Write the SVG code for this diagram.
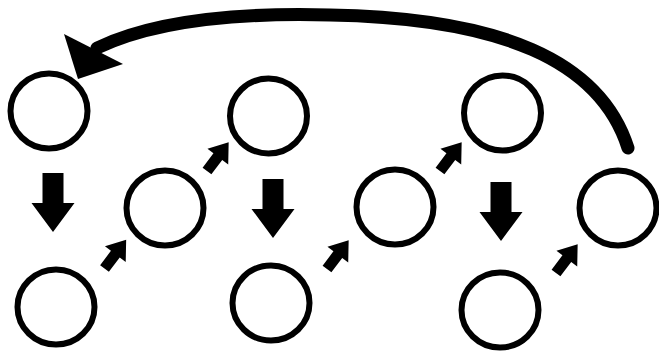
<svg xmlns="http://www.w3.org/2000/svg" xmlns:xlink="http://www.w3.org/1999/xlink" width="659" height="351" viewBox="0 0 659 351">
  <style>
    .node { fill: #ffffff; stroke: #000000; stroke-width: 6; }
    .arr { fill: #000000; stroke: none; }
    .curve { fill: none; stroke: #000000; stroke-width: 13; stroke-linecap: round; }
  </style>
  <defs>
    <path id="diag" d="M0,-5.5 L18,-5.5 L18,-13 L36,0 L18,13 L18,5.5 L0,5.5 Z"/>
    <path id="down" d="M-10.5,0 L10.5,0 L10.5,30 L21.5,30 L0,59 L-21.5,30 L-10.5,30 Z"/>
  </defs>
  <rect width="659" height="351" fill="#ffffff"/>
  <g id="n1"><ellipse class="node" cx="49" cy="111" rx="38.5" ry="37.5"/></g>
  <g id="n2"><ellipse class="node" cx="56" cy="307" rx="38.5" ry="37.5"/></g>
  <g id="n3"><ellipse class="node" cx="165" cy="208" rx="38.5" ry="37.5"/></g>
  <g id="n4"><ellipse class="node" cx="268.5" cy="116" rx="38.5" ry="37.5"/></g>
  <g id="n5"><ellipse class="node" cx="271" cy="303" rx="38.5" ry="37.5"/></g>
  <g id="n6"><ellipse class="node" cx="395" cy="207" rx="38.5" ry="37.5"/></g>
  <g id="n7"><ellipse class="node" cx="502.5" cy="113" rx="38.5" ry="37.5"/></g>
  <g id="n8"><ellipse class="node" cx="500" cy="310" rx="38.5" ry="37.5"/></g>
  <g id="n9"><ellipse class="node" cx="618" cy="208" rx="38.5" ry="37.5"/></g>
  <g id="connectors">
    <use class="arr" xlink:href="#down" href="#down" transform="translate(53,173)"/>
    <use class="arr" xlink:href="#down" href="#down" transform="translate(273,179)"/>
    <use class="arr" xlink:href="#down" href="#down" transform="translate(501,182)"/>
    <use class="arr" xlink:href="#diag" href="#diag" transform="translate(104.5,268.5) rotate(-53)"/>
    <use class="arr" xlink:href="#diag" href="#diag" transform="translate(207,171) rotate(-53)"/>
    <use class="arr" xlink:href="#diag" href="#diag" transform="translate(327,269) rotate(-53)"/>
    <use class="arr" xlink:href="#diag" href="#diag" transform="translate(440,171) rotate(-53)"/>
    <use class="arr" xlink:href="#diag" href="#diag" transform="translate(556,273) rotate(-53)"/>
    <path class="curve" d="M628,148 C600,60 500,18 330,15 C220,12 145,25 97,48"/>
    <polygon class="arr" points="64,34 123,64 78,79"/>
  </g>
</svg>
